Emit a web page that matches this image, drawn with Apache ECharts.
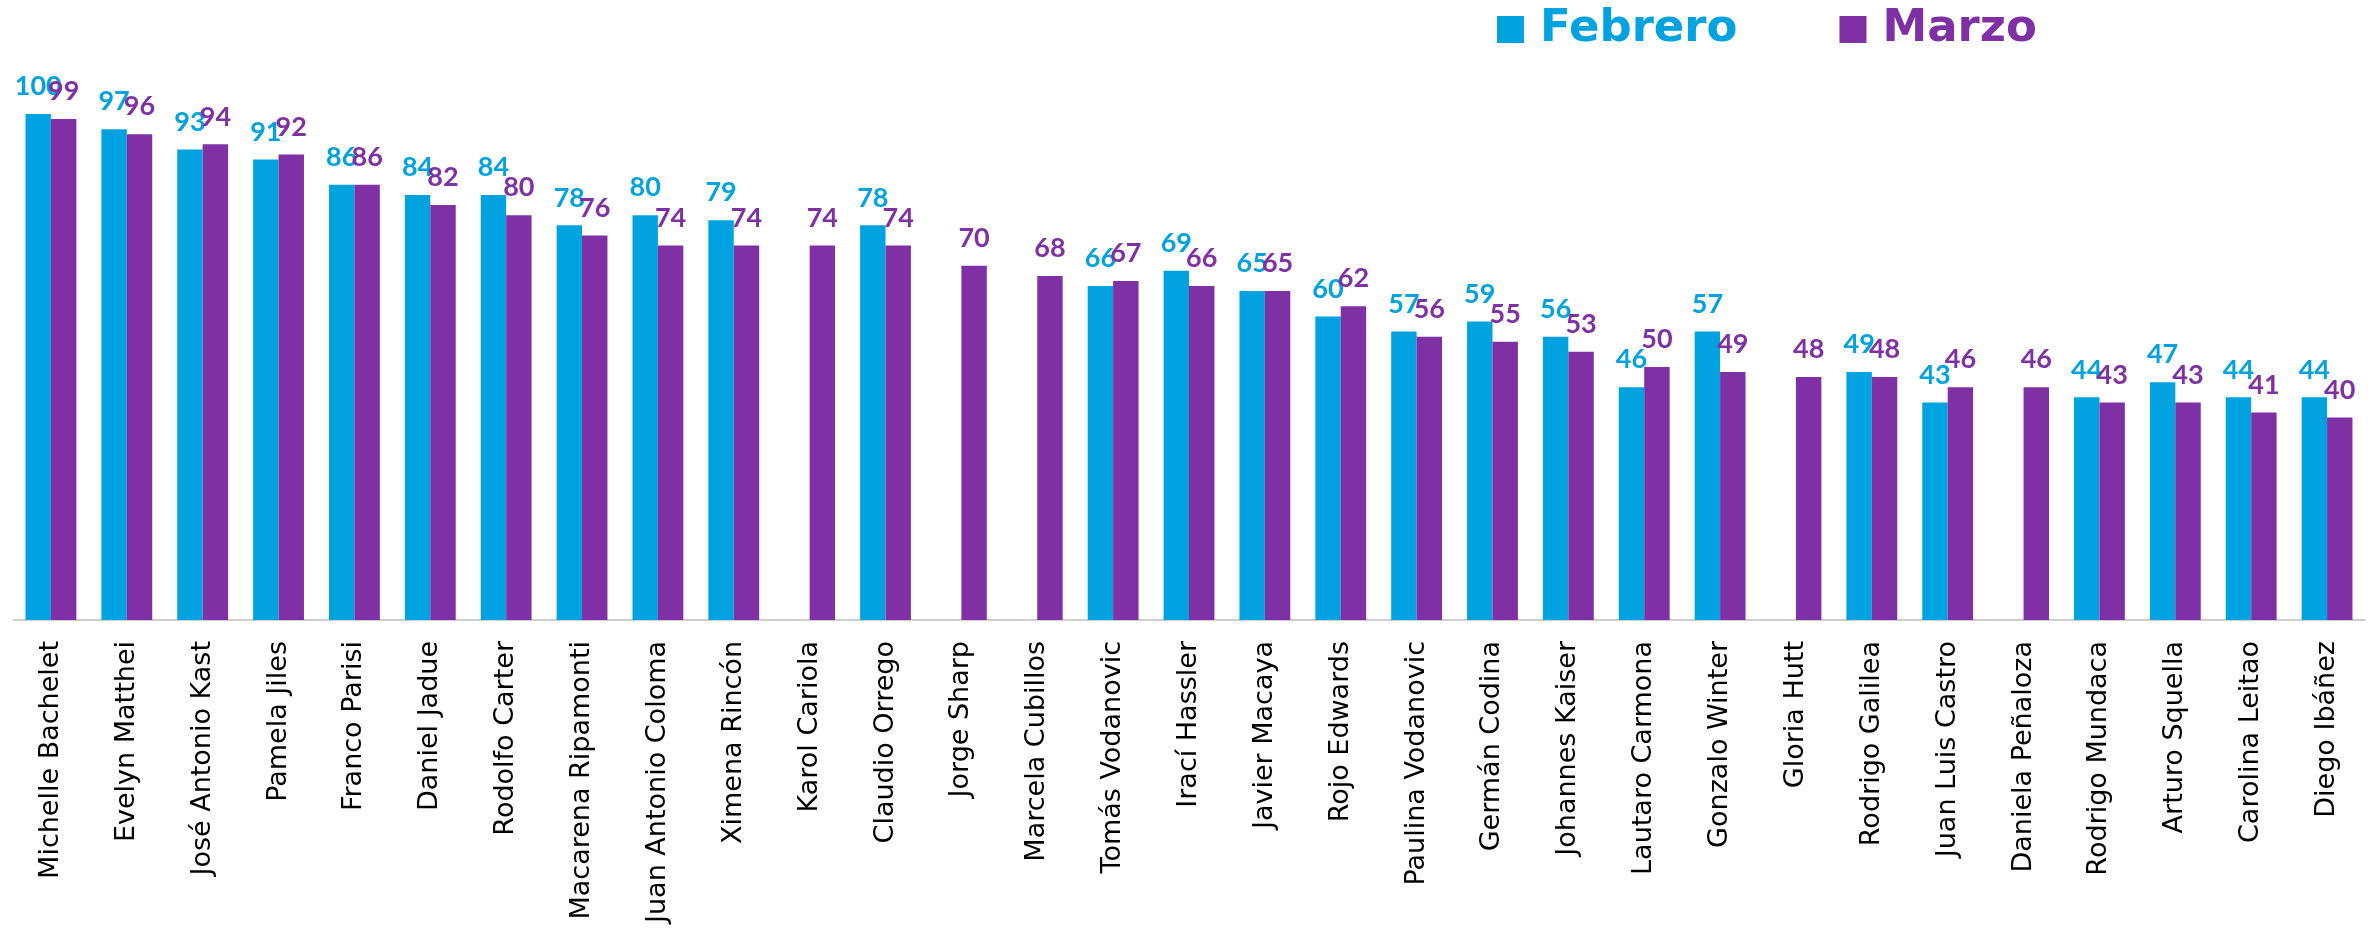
<!DOCTYPE html>
<html>
<head>
<meta charset="utf-8">
<script src="https://cdn.jsdelivr.net/npm/echarts@6/dist/echarts.min.js"></script>
<style>
  html, body { margin: 0; padding: 0; background: #fff; }
  #chart { width: 2379px; height: 930px; }
</style>
</head>
<body>
<div id="chart"></div>
<script>
const nombres = [
  'Michelle Bachelet', 'Evelyn Matthei', 'José Antonio Kast', 'Pamela Jiles', 'Franco Parisi',
  'Daniel Jadue', 'Rodolfo Carter', 'Macarena Ripamonti', 'Juan Antonio Coloma', 'Ximena Rincón',
  'Karol Cariola', 'Claudio Orrego', 'Jorge Sharp', 'Marcela Cubillos', 'Tomás Vodanovic',
  'Irací Hassler', 'Javier Macaya', 'Rojo Edwards', 'Paulina Vodanovic', 'Germán Codina',
  'Johannes Kaiser', 'Lautaro Carmona', 'Gonzalo Winter', 'Gloria Hutt', 'Rodrigo Galilea',
  'Juan Luis Castro', 'Daniela Peñaloza', 'Rodrigo Mundaca', 'Arturo Squella', 'Carolina Leitao',
  'Diego Ibáñez'
]
const febrero = [100, 97, 93, 91, 86, 84, 84, 78, 80, 79, null, 78, null, null, 66, 69, 65, 60, 57, 59, 56, 46, 57, null, 49, 43, null, 44, 47, 44, 44]
const marzo = [99, 96, 94, 92, 86, 82, 80, 76, 74, 74, 74, 74, 70, 68, 67, 66, 65, 62, 56, 55, 53, 50, 49, 48, 48, 46, 46, 43, 43, 41, 40]

const azul = '#00A3E0'
const morado = '#7F30A5'

const chart = echarts.init(document.getElementById('chart'))

const serie = (name, data, color) => ({
  name,
  type: 'bar',
  data,
  barGap: '0%',
  barCategoryGap: '33%',
  itemStyle: { color },
  label: {
    show: true,
    position: 'top',
    distance: 14,
    color,
    fontFamily: 'Lato',
    fontWeight: 'bold',
    fontSize: 27
  }
})

chart.setOption({
  animation: false,
  grid: { left: 13, right: 14, top: 114, bottom: 310 },
  legend: {
    left: 1497,
    top: 7,
    padding: 0,
    icon: 'rect',
    itemWidth: 27,
    itemHeight: 27,
    itemGap: 102,
    textStyle: {
      fontFamily: 'DejaVu Sans',
      fontWeight: 'bold',
      fontSize: 45,
      padding: [0, 0, 0, 11]
    },
    data: [
      { name: 'Febrero', textStyle: { color: azul } },
      { name: 'Marzo', textStyle: { color: morado } }
    ]
  },
  xAxis: {
    type: 'category',
    data: nombres,
    axisLine: { lineStyle: { color: '#BFBFBF', width: 1.5 } },
    axisTick: { length: 8, lineStyle: { color: '#BFBFBF' } },
    axisLabel: {
      rotate: 90,
      margin: 21,
      interval: 0,
      color: '#000',
      fontFamily: 'DejaVu Sans',
      fontSize: 27
    }
  },
  yAxis: {
    type: 'value',
    min: 0,
    max: 100,
    show: false,
    splitLine: { show: false }
  },
  series: [
    serie('Febrero', febrero, azul),
    serie('Marzo', marzo, morado)
  ]
})
</script>
</body>
</html>
